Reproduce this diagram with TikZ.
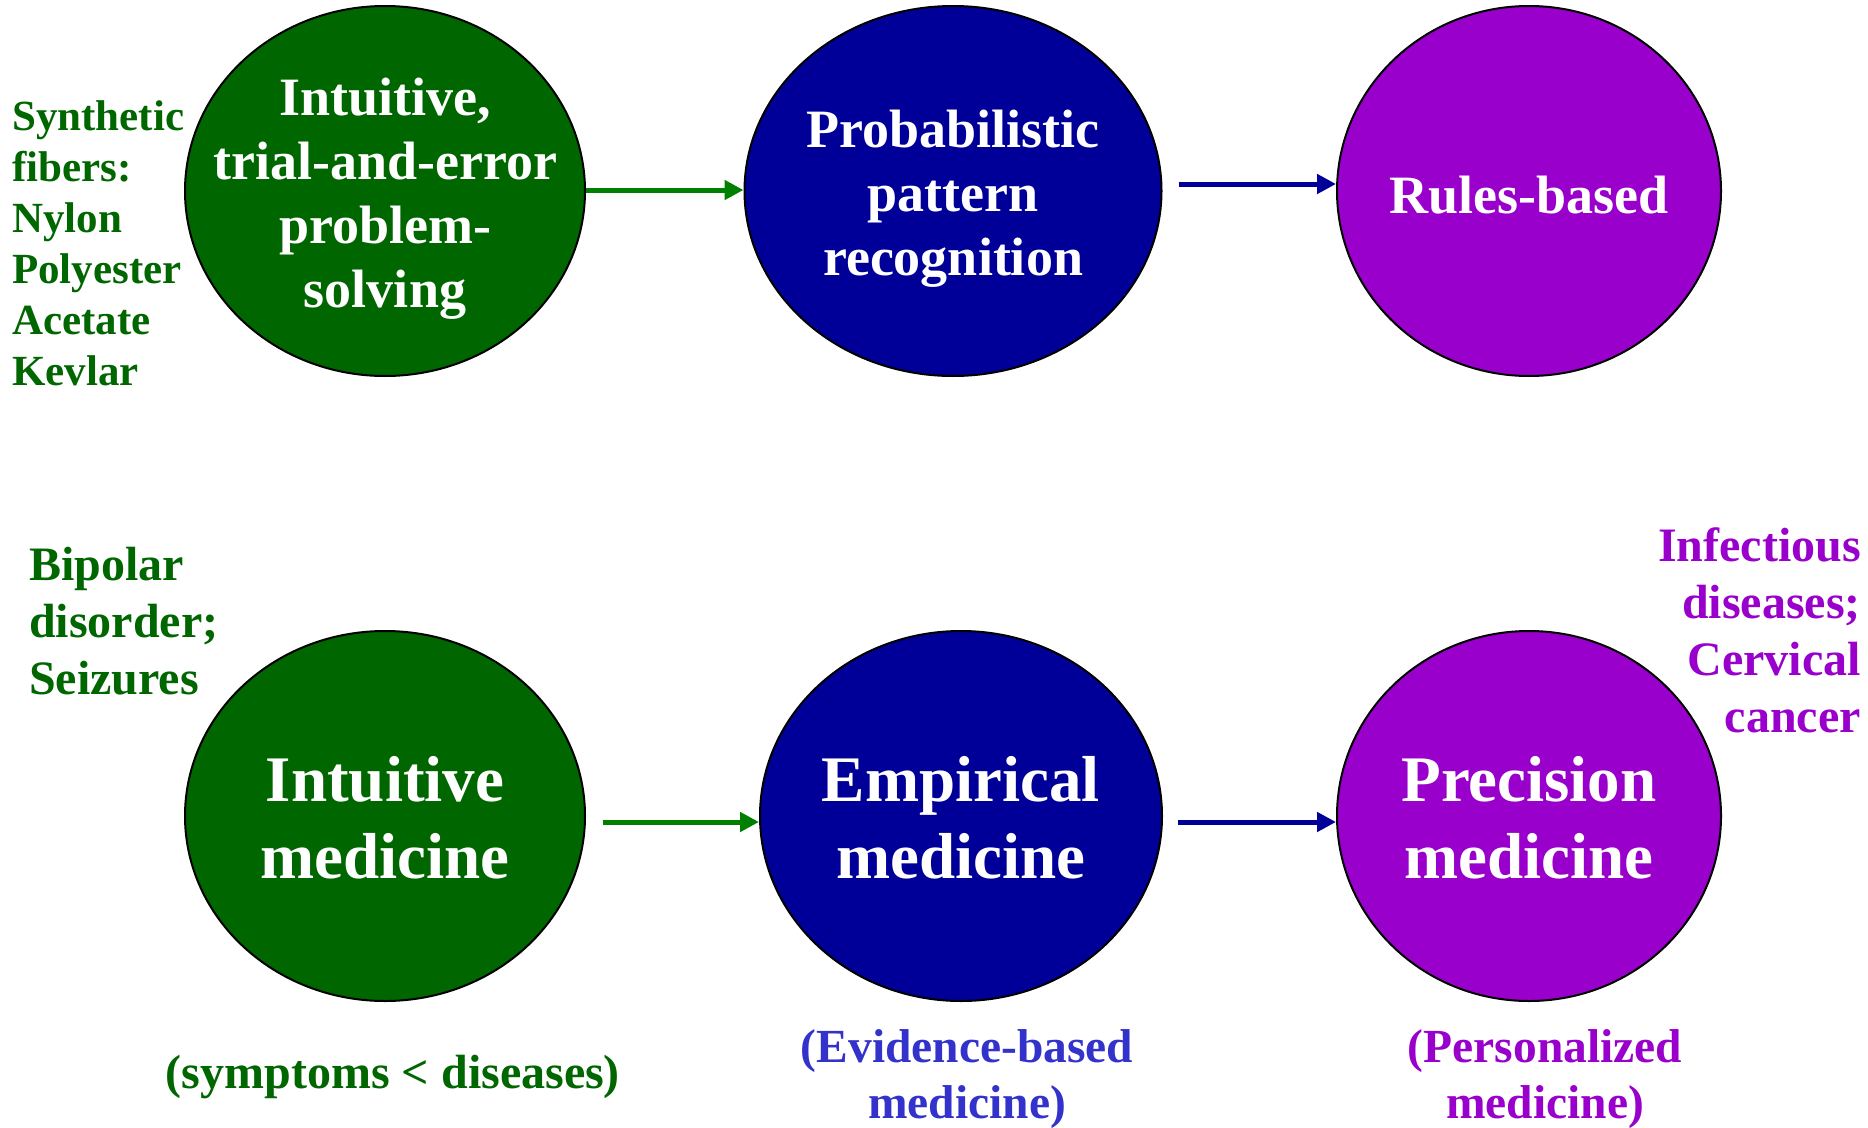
\documentclass[tikz,border=0pt]{standalone}
\usepackage{fontspec}
\setmainfont{Liberation Serif}
\usetikzlibrary{shapes.geometric,arrows.meta,calc}
\definecolor{dgreen}{HTML}{006600}
\definecolor{agreen}{HTML}{008000}
\definecolor{dblue}{HTML}{000099}
\definecolor{purp}{HTML}{9900CC}
\definecolor{eblue}{HTML}{3333CC}
\newcommand{\fs}[2]{\fontsize{#1}{#2}\selectfont}
\tikzset{
  blob/.style={ellipse, draw=black, line width=2pt, inner sep=0pt},
  intext/.style={text=white, align=center, inner sep=0pt},
  toptext/.style={font=\bfseries\fs{54}{64}},
  bottext/.style={font=\bfseries\fs{65}{77}},
  side/.style={font=\bfseries\fs{43}{51}, align=left, inner sep=0pt},
  arr/.style={line width=5pt, -{Triangle[length=19pt,width=19pt]}},
}
\begin{document}
\begin{tikzpicture}[x=1pt,y=-1pt]
\useasboundingbox (0,0) rectangle (1868,1127);
% top row
\node[blob, fill=dgreen, minimum width=400pt, minimum height=370pt] (tl) at (385,191) {};
\node[blob, fill=dblue, minimum width=417pt, minimum height=370pt] (tm) at (953,191) {};
\node[blob, fill=purp, minimum width=384pt, minimum height=370pt] (tr) at (1529,191) {};
\node[intext, toptext] (tlt) at ($(tl)+(0,8)$) {Intuitive,\\trial-and-error\\problem-\\solving};
\node[intext, toptext] (tmt) at ($(tm)+(0,8)$) {Probabilistic\\pattern\\recognition};
\node[intext, toptext] (trt) at ($(tr)+(0,4)$) {Rules-based};
% bottom row
\node[blob, fill=dgreen, minimum width=400pt, minimum height=370pt] (bl) at (385,816) {};
\node[blob, fill=dblue, minimum width=402pt, minimum height=370pt] (bm) at (961,816) {};
\node[blob, fill=purp, minimum width=384pt, minimum height=370pt] (br) at (1529,816) {};
\node[intext, bottext] (blt) at ($(bl)+(0,2)$) {Intuitive\\medicine};
\node[intext, bottext] (bmt) at ($(bm)+(0,2)$) {Empirical\\medicine};
\node[intext, bottext] (brt) at ($(br)+(0,2)$) {Precision\\medicine};
% arrows
\draw[arr, agreen] ([yshift=1pt]tl.east) -- ([yshift=1pt]tm.west);
\draw[arr, dblue] ($(tm.east)+(16,-7)$) -- ($(tr.west)+(0,-7)$);
\draw[arr, agreen] ($(bl.east)+(17,6)$) -- ($(bm.west)+(0,6)$);
\draw[arr, dblue] ($(bm.east)+(15,6)$) -- ($(br.west)+(0,6)$);
% side texts
\node[side, text=dgreen, anchor=north west] (syn) at (12,100) {Synthetic\\fibers:\\Nylon\\Polyester\\Acetate\\Kevlar};
\node[side, text=dgreen, anchor=north west, font=\bfseries\fs{48}{57}] (bip) at (29,547) {Bipolar\\disorder;\\Seizures};
\node[side, text=purp, anchor=north east, align=right, font=\bfseries\fs{48}{57}] (inf) at (1861,527) {Infectious\\diseases;\\Cervical\\cancer};
% bottom captions
\node[text=dgreen, font=\bfseries\fs{48}{54}, inner sep=0pt] (sym) at (393,1077) {(symptoms < diseases)};
\node[text=eblue, font=\bfseries\fs{47.5}{56}, align=center, inner sep=0pt] (evb) at (967,1079) {(Evidence-based\\medicine)};
\node[text=purp, font=\bfseries\fs{47.5}{56}, align=center, inner sep=0pt] (per) at (1545,1079) {(Personalized\\medicine)};
\end{tikzpicture}
\end{document}
